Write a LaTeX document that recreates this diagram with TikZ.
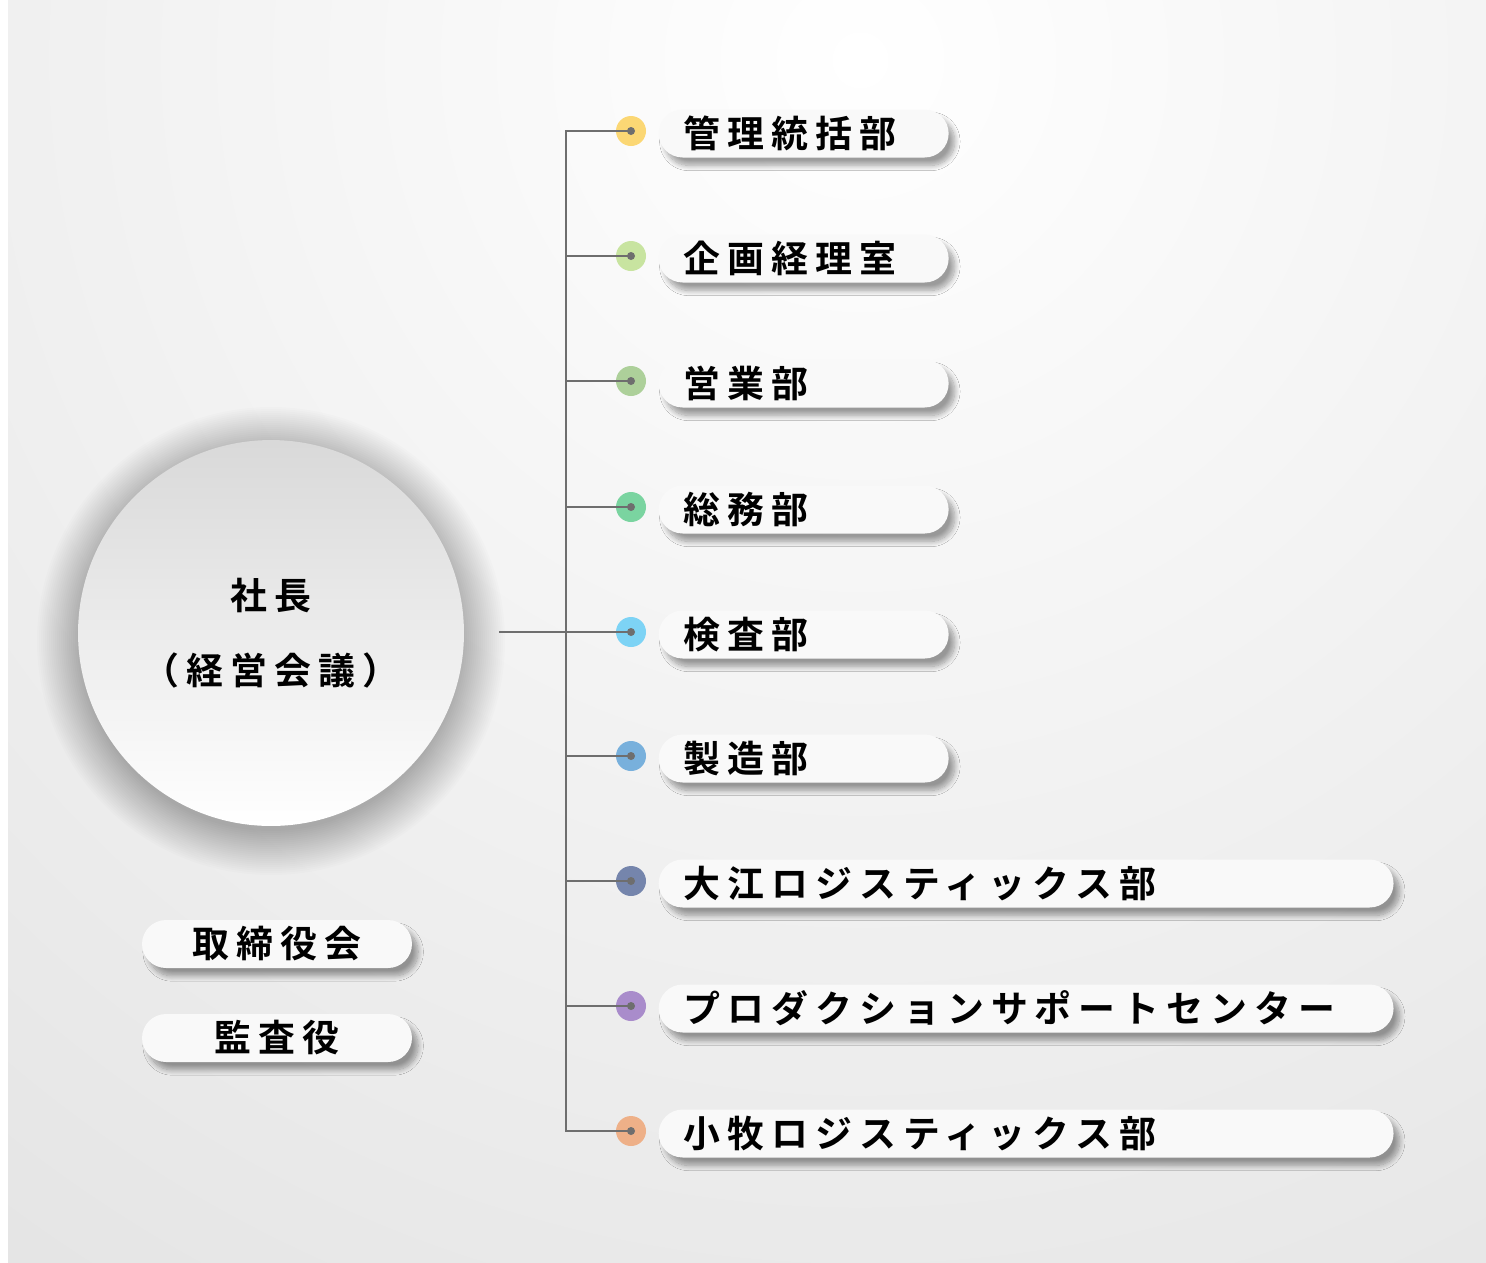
\documentclass[tikz,border=0pt]{standalone}
\usepackage{fontspec}
\newfontfamily\jpfont[LetterSpace=19,BoldFont={Noto Sans CJK JP Bold}]{Noto Sans CJK JP}
\usetikzlibrary{positioning,shadows.blur}

\definecolor{bgout}{HTML}{D5D5D5}
\definecolor{linegray}{HTML}{6E6E6E}
\definecolor{pillfill}{HTML}{F9F9F9}
\definecolor{dotA}{HTML}{FBD774}
\definecolor{dotB}{HTML}{C8E4A0}
\definecolor{dotC}{HTML}{ADD09A}
\definecolor{dotD}{HTML}{7AD4A0}
\definecolor{dotE}{HTML}{7DD3F5}
\definecolor{dotF}{HTML}{78B0DC}
\definecolor{dotG}{HTML}{7585AC}
\definecolor{dotH}{HTML}{A98CCB}
\definecolor{dotI}{HTML}{EEB088}

\tikzset{
	link/.style={draw=linegray, line width=1.4pt, line cap=rect},
	jptext/.style={font=\jpfont\bfseries\fontsize{21}{25}\selectfont},
	pill/.style={jptext, rounded corners=0.48cm, fill=pillfill, minimum height=0.96cm,
		inner xsep=0.5cm, inner ysep=0pt,
		blur shadow={shadow xshift=3.5pt, shadow yshift=-4.5pt, shadow blur radius=3pt,
			shadow blur steps=12, shadow opacity=38}},
	shortpill/.style={pill, text width=4.8cm, align=left},
	longpill/.style={pill, text width=13.7cm, align=left},
	sidepill/.style={pill, text width=4.4cm, align=center},
	bullet/.style={circle, minimum size=0.6cm, inner sep=0pt},
	ceobox/.style={jptext, circle, minimum size=7.72cm, align=center,
		top color=black!15, middle color=white!97!black, bottom color=white},
	halo/.style={fill=black, opacity=0.011}
}

\begin{document}
\begin{tikzpicture}[x=0.02cm, y=0.02cm]

	\useasboundingbox (0,0) rectangle (1486,-1262);
	\fill[white] (0,0) rectangle (1486,-1262);
	\begin{scope}
		\clip (8,0) rectangle (1486,-1262);
		\shade[inner color=white, outer color=bgout] (860,-60) circle [radius=2350];
	\end{scope}

	\foreach \r in {0,...,22}
		\fill[halo] (271,-641) circle [radius=190+2*\r];
	\node[ceobox] (ceo) at (271,-633) {社長\\[0.62cm]（経営会議）};

	\node[sidepill] (board) at (277,-944) {取締役会};
	\node[sidepill] (audit) at (277,-1038) {監査役};

	\coordinate (trunk) at (566,0);
	\coordinate (ceoend) at (500,-632);

	\foreach \i/\y/\col/\len/\txt in {
		1/131/dotA/shortpill/管理統括部,
		2/256/dotB/shortpill/企画経理室,
		3/381/dotC/shortpill/営業部,
		4/507/dotD/shortpill/総務部,
		5/632/dotE/shortpill/検査部,
		6/756/dotF/shortpill/製造部,
		7/881/dotG/longpill/大江ロジスティックス部,
		8/1006/dotH/longpill/プロダクションサポートセンター,
		9/1131/dotI/longpill/小牧ロジスティックス部}
	{
		\node[bullet, fill=\col] (dot\i) at (631,-\y) {};
		\draw[link] (dot\i.center -| trunk) -- (dot\i.center);
		\fill[linegray] (dot\i.center) circle [radius=4];
		\node[\len, right=0.24cm of dot\i, yshift=-0.05cm] (dept\i) {\txt};
	}

	\draw[link] (dot1.center -| trunk) -- (dot9.center -| trunk);
	\draw[link] (ceoend) -- (dot5.center);

\end{tikzpicture}
\end{document}
